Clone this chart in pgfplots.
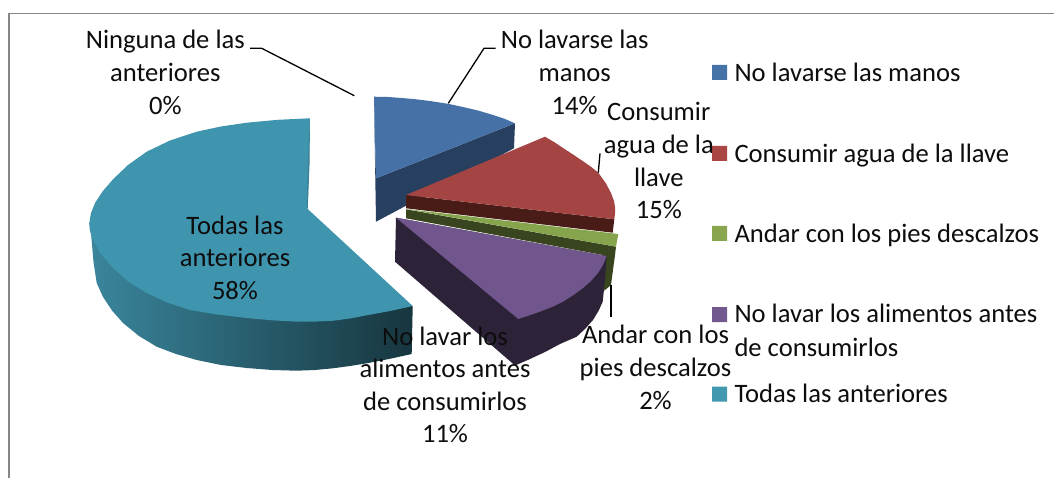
\documentclass[border=0pt]{standalone}
\usepackage{pgfplots}
\pgfplotsset{compat=1.18}
\usepackage{fontspec}
\setmainfont{Carlito}
\definecolor{bluetop}{HTML}{4571A6}
\definecolor{blueside}{HTML}{274060}
\definecolor{redtop}{HTML}{A54543}
\definecolor{redside}{HTML}{4A1C18}
\definecolor{greentop}{HTML}{86A44B}
\definecolor{greenside}{HTML}{38451E}
\definecolor{purpletop}{HTML}{70568C}
\definecolor{purpleside}{HTML}{2D2338}
\definecolor{tealtop}{HTML}{4095AE}
\definecolor{tealinner}{HTML}{3A8199}
\definecolor{frame}{HTML}{868686}
\definecolor{leg1}{HTML}{4572A7}
\definecolor{leg2}{HTML}{AA4643}
\definecolor{leg3}{HTML}{89A54E}
\definecolor{leg4}{HTML}{71588F}
\definecolor{leg5}{HTML}{4198AF}
\tikzset{
  lbl/.style={anchor=base, yshift=-1pt, font=\fontsize{26.6}{32}\selectfont, text=black!95, inner sep=0pt},
  lgd/.style={anchor=base west, yshift=-1pt, font=\fontsize{26.6}{32}\selectfont, text=black!95, inner sep=0pt},
  lead/.style={draw=black, line width=1.3pt},
}
\begin{document}
\begin{tikzpicture}
\begin{axis}[
  scale only axis, width=1054pt, height=478pt,
  xmin=0, xmax=1054, ymin=0, ymax=478, y dir=reverse,
  hide axis, no markers, clip=true,
  every axis plot/.append style={sharp plot, line width=0pt, draw=none},
]
% page and frame
\addplot[fill=white] coordinates {(0,0) (1054,0) (1054,478) (0,478) (0,0)};
\addplot[draw=frame, line width=1.4pt] coordinates {(9,478) (9,13.5) (1054,13.5)};

% teal slice
\addplot[shade, left color=tealtop!90!black, middle color=tealtop!62!black, right color=tealtop!36!black] coordinates {
 (89.3,223) (91,233) (93.5,262) (96.7,283) (103,297) (112,310.5) (123,323) (139,336) (156.7,346.7) (176,354) (196.7,360) (221,365) (246.7,368) (272,370) (296.7,370.7) (315,370) (333,368.3) (350,366) (366.7,363.3) (390,358.8) (411.7,354) (412.7,306) (89.3,223)};
\addplot[fill=tealtop] coordinates {
 (310,118.3) (278,119.8) (246.7,122.7) (221,126.5) (196.7,131.7) (170,140.5) (146.7,151.7) (128,165) (113.3,179) (102.5,191.5) (95,203) (91,213) (89.3,223)
 (89.8,230) (91.7,236.7) (100,253) (113,268) (128,281.5) (146.7,293) (167,302.5) (190,310) (217,314.5) (246.7,318) (272,320.3) (296.7,321.7) (315,321.6) (333.3,320.7) (350,318.5) (366.7,315.3) (390,311) (412.7,306)
 (307.7,209) (310,118.3)};
\addplot[fill=tealinner] coordinates {(310,118.3) (309.5,165) (307.7,209) (306.7,207) (308,160) (309,135) (310,118.3)};

% blue slice
\addplot[fill=blueside] coordinates {(515,123.3) (514,148.3) (376,221.7) (374,96.7) (376,178.3) (515,123.3)};
\addplot[fill=bluetop] coordinates {(374,96.7) (388,97) (402,98) (416,99.3) (430,101) (448,103.8) (462,106.8) (478,110.5) (493,115) (505,119) (515,123.3) (376,178.3) (374,96.7)};

% red slice
\addplot[fill=redside] coordinates {(406,195) (614.3,219.3) (612.7,232.7) (406,208.3) (406,195)};
\addplot[fill=redtop] coordinates {(406,195) (545,136.7) (554,142) (563,148) (573,154.5) (583,161.2) (591,166.8) (598.3,172.7) (606,183.5) (611,193) (614,201) (615.2,208) (615,214) (614.3,219.3) (406,195)};

% green slice
\addplot[fill=greenside] coordinates {(406,209.3) (616,246.7) (615,255) (611,285) (604.3,290.7) (603,255) (406,218.3) (406,209.3)};
\addplot[fill=greentop] coordinates {(406,209) (618.3,234) (616,246.7) (406,209)};

% purple slice
\addplot[fill=purpleside] coordinates {(396,217.7) (606.7,256) (605.5,275) (602.7,301.7) (598.5,311) (593,320) (585.5,328.5) (576.7,336.7) (560,344) (545,352) (530,359) (515,365.5) (395,261.7) (396,217.7)};
\addplot[fill=purpletop] coordinates {(396,217.7) (606.7,256) (603,265) (598,273) (591,281) (583,288) (573.5,295) (563,301.7) (552,307) (540,311.7) (529,315.5) (518.3,319) (396,217.7)};

% leaders
\addplot[lead] coordinates {(250,48.3) (261.7,48.3) (354.3,95.7)};
\addplot[lead] coordinates {(495.7,48.3) (484,48.3) (448.3,103.3)};
\addplot[lead] coordinates {(600,153.3) (598.3,172.7)};
\addplot[lead] coordinates {(611,285) (611,317.3)};

% legend swatches
\addplot[fill=leg1] coordinates {(712,65) (727,65) (727,80) (712,80) (712,65)};
\addplot[fill=leg2] coordinates {(712,146) (727,146) (727,161) (712,161) (712,146)};
\addplot[fill=leg3] coordinates {(712,226) (727,226) (727,241) (712,241) (712,226)};
\addplot[fill=leg4] coordinates {(712,307) (727,307) (727,322) (712,322) (712,307)};
\addplot[fill=leg5] coordinates {(712,386.7) (727,386.7) (727,401.7) (712,401.7) (712,386.7)};

% data labels
\node[lbl] at (axis cs:165.3,47.3) {Ninguna de las};
\node[lbl] at (axis cs:165.3,80.7) {anteriores};
\node[lbl] at (axis cs:165.3,113.3) {0\%};
\node[lbl] at (axis cs:574.7,47.3) {No lavarse las};
\node[lbl] at (axis cs:574.7,80.7) {manos};
\node[lbl] at (axis cs:574.7,113.3) {14\%};
\node[lbl] at (axis cs:658.8,120) {Consumir};
\node[lbl] at (axis cs:658.8,152.7) {agua de la};
\node[lbl] at (axis cs:658.8,186) {llave};
\node[lbl] at (axis cs:658.8,218) {15\%};
\node[lbl] at (axis cs:235,233.3) {Todas las};
\node[lbl] at (axis cs:235,265.7) {anteriores};
\node[lbl] at (axis cs:235,298.3) {58\%};
\node[lbl] at (axis cs:445,344) {No lavar los};
\node[lbl] at (axis cs:445,376.7) {alimentos antes};
\node[lbl] at (axis cs:445,409) {de consumirlos};
\node[lbl] at (axis cs:445,441.7) {11\%};
\node[lbl] at (axis cs:655.5,342.7) {Andar con los};
\node[lbl] at (axis cs:655.5,375.3) {pies descalzos};
\node[lbl] at (axis cs:655.5,408.3) {2\%};

% legend text
\node[lgd] at (axis cs:734.3,81) {No lavarse las manos};
\node[lgd] at (axis cs:734.3,161.3) {Consumir agua de la llave};
\node[lgd] at (axis cs:734.3,241.7) {Andar con los pies descalzos};
\node[lgd] at (axis cs:734.3,321.7) {No lavar los alimentos antes};
\node[lgd] at (axis cs:734.3,355) {de consumirlos};
\node[lgd] at (axis cs:734.3,401.7) {Todas las anteriores};
\end{axis}
\end{tikzpicture}
\end{document}
